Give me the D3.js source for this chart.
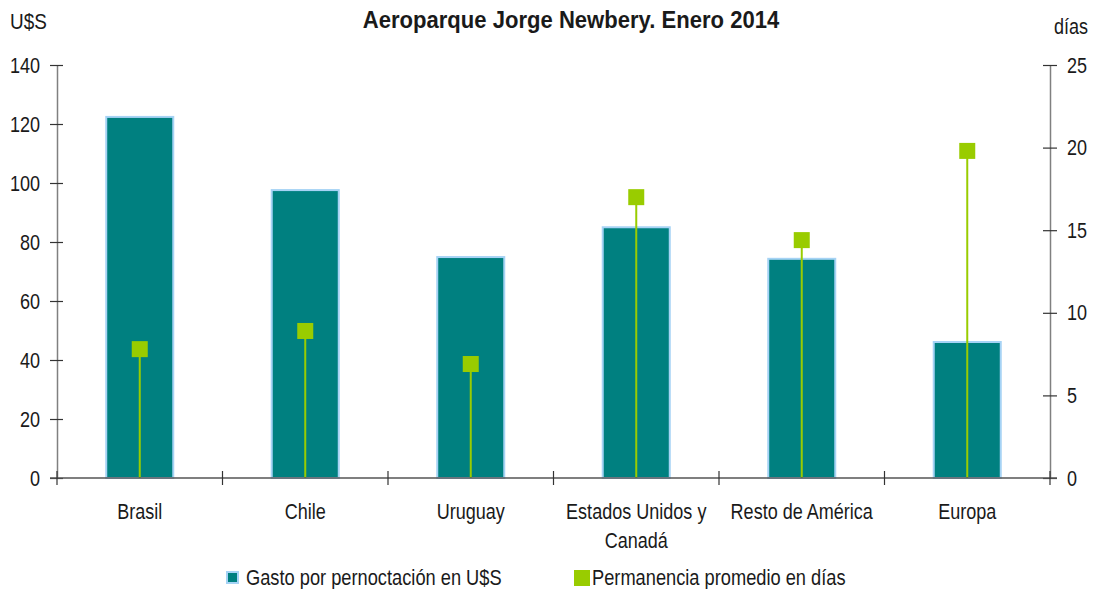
<!DOCTYPE html>
<html>
<head>
<meta charset="utf-8">
<script src="https://cdn.jsdelivr.net/npm/d3@7"></script>
<style>
  body { margin: 0; background: #fff; }
  svg text { font-family: "Liberation Sans", Arial, sans-serif; fill: #1a1a1a; }
  .axis path { stroke: #808080; stroke-width: 1.5; }
  .axis line { stroke: #333; stroke-width: 1.2; }
</style>
</head>
<body>
<script>
// data
var categories = ["Brasil", "Chile", "Uruguay", "Estados Unidos y Canadá", "Resto de América", "Europa"];
var gasto = [122.4, 97.6, 74.9, 85.0, 74.3, 46.1];      // U$S por pernoctación
var estadia = [7.8, 8.9, 6.9, 17.0, 14.4, 19.8];         // días promedio
var leftTicks = [0, 20, 40, 60, 80, 100, 120, 140];
var rightTicks = [0, 5, 10, 15, 20, 25];

const W = 1093, H = 589;
const margin = {top: 65, right: 43, bottom: 111, left: 57};
const width = W - margin.left - margin.right;
const height = H - margin.top - margin.bottom;
const squeeze = 0.82; // fake a narrow font by scaling Liberation Sans horizontally

// squeeze a text horizontally around its own x
function narrow(sel, k) {
    k = k || squeeze;
    sel.each(function() {
        var t = d3.select(this);
        var x = +t.attr("x") || 0;
        t.attr("transform", "translate(" + x + ",0) scale(" + k + ",1) translate(" + (-x) + ",0)");
    });
}

var svg = d3.select("body").append("svg")
    .attr("width", W)
    .attr("height", H)
    .append("g")
    .attr("transform", "translate(" + margin.left + "," + margin.top + ")");

var xScale = d3.scaleBand()
    .domain(categories)
    .range([0, width])
    .paddingInner(0.595)
    .paddingOuter(0.2975);

var yLeft = d3.scaleLinear().domain([0, 140]).range([height, 0]);
var yRight = d3.scaleLinear().domain([0, 25]).range([height, 0]);

var step = xScale.step();

// bars
svg.selectAll(".bar")
    .data(categories)
    .enter().append("rect")
    .attr("class", "bar")
    .attr("x", function(d) { return xScale(d); })
    .attr("y", function(d, i) { return yLeft(gasto[i]); })
    .attr("width", xScale.bandwidth())
    .attr("height", function(d, i) { return height - yLeft(gasto[i]); })
    .attr("fill", "#008080")
    .attr("stroke", "#a6d3f5")
    .attr("stroke-width", 2);

// stems + markers for días
var cx = function(d) { return xScale(d) + xScale.bandwidth() / 2; };

svg.selectAll(".stem")
    .data(categories)
    .enter().append("line")
    .attr("class", "stem")
    .attr("x1", cx).attr("x2", cx)
    .attr("y1", height)
    .attr("y2", function(d, i) { return yRight(estadia[i]); })
    .attr("stroke", "#99cc00")
    .attr("stroke-width", 2);

svg.selectAll(".marker")
    .data(categories)
    .enter().append("rect")
    .attr("class", "marker")
    .attr("x", function(d) { return cx(d) - 8; })
    .attr("y", function(d, i) { return yRight(estadia[i]) - 8; })
    .attr("width", 16)
    .attr("height", 16)
    .attr("fill", "#99cc00");

// left axis
var leftAxis = svg.append("g")
    .attr("class", "y axis")
    .call(d3.axisLeft(yLeft).tickValues(leftTicks).tickSize(7).tickPadding(10).tickSizeOuter(0));
leftAxis.selectAll(".tick line").attr("x2", 6).attr("x1", -7);
leftAxis.selectAll("text").style("font-size", "22px").call(narrow);

// right axis
var rightAxis = svg.append("g")
    .attr("class", "y2 axis")
    .attr("transform", "translate(" + width + ",0)")
    .call(d3.axisRight(yRight).tickValues(rightTicks).tickSize(7).tickPadding(10).tickSizeOuter(0));
rightAxis.selectAll(".tick line").attr("x1", -7).attr("x2", 7);
rightAxis.selectAll("text").style("font-size", "22px").call(narrow);

// x axis baseline with boundary ticks
svg.append("line")
    .attr("x1", -7).attr("x2", width + 7)
    .attr("y1", height).attr("y2", height)
    .attr("stroke", "#555").attr("stroke-width", 1.5);

svg.selectAll(".xtick")
    .data(d3.range(categories.length + 1))
    .enter().append("line")
    .attr("class", "xtick")
    .attr("x1", function(i) { return i * step; })
    .attr("x2", function(i) { return i * step; })
    .attr("y1", height - 7).attr("y2", height + 7)
    .attr("stroke", "#333").attr("stroke-width", 1.2);

// category labels (two lines when long)
var labels = svg.selectAll(".xlabel")
    .data(categories)
    .enter().append("text")
    .attr("class", "xlabel")
    .attr("text-anchor", "middle")
    .style("font-size", "22px")
    .attr("x", cx)
    .attr("y", height + 41);

labels.each(function(d) {
    var t = d3.select(this);
    var lines = d === "Estados Unidos y Canadá" ? ["Estados Unidos y", "Canadá"] : [d];
    lines.forEach(function(l, k) {
        t.append("tspan").attr("x", cx(d)).attr("dy", k ? 29 : 0).text(l);
    });
});
labels.call(narrow);

// titles
svg.append("text")
    .attr("x", 571 - margin.left)
    .attr("y", 28 - margin.top)
    .attr("text-anchor", "middle")
    .style("font-size", "24px")
    .style("font-weight", "bold")
    .text("Aeroparque Jorge Newbery. Enero 2014")
    .call(narrow, 0.92);

svg.append("text")
    .attr("x", 10 - margin.left).attr("y", 29 - margin.top)
    .style("font-size", "22px")
    .text("U$S")
    .call(narrow, 0.86);

svg.append("text")
    .attr("x", 1088 - margin.left).attr("y", 34 - margin.top)
    .attr("text-anchor", "end")
    .style("font-size", "22px")
    .text("días")
    .call(narrow);

// legend
var legend = svg.append("g").attr("transform", "translate(" + (-margin.left) + "," + (-margin.top) + ")");
legend.append("rect")
    .attr("x", 227).attr("y", 572).attr("width", 11).attr("height", 11)
    .attr("fill", "#008080").attr("stroke", "#a6d3f5").attr("stroke-width", 2);
legend.append("text")
    .attr("x", 246).attr("y", 585)
    .style("font-size", "22px")
    .text("Gasto por pernoctación en U$S")
    .call(narrow, 0.83);
legend.append("rect")
    .attr("x", 574).attr("y", 570).attr("width", 16).attr("height", 16)
    .attr("fill", "#99cc00");
legend.append("text")
    .attr("x", 592).attr("y", 585)
    .style("font-size", "22px")
    .text("Permanencia promedio en días")
    .call(narrow, 0.83);
</script>
</body>
</html>
